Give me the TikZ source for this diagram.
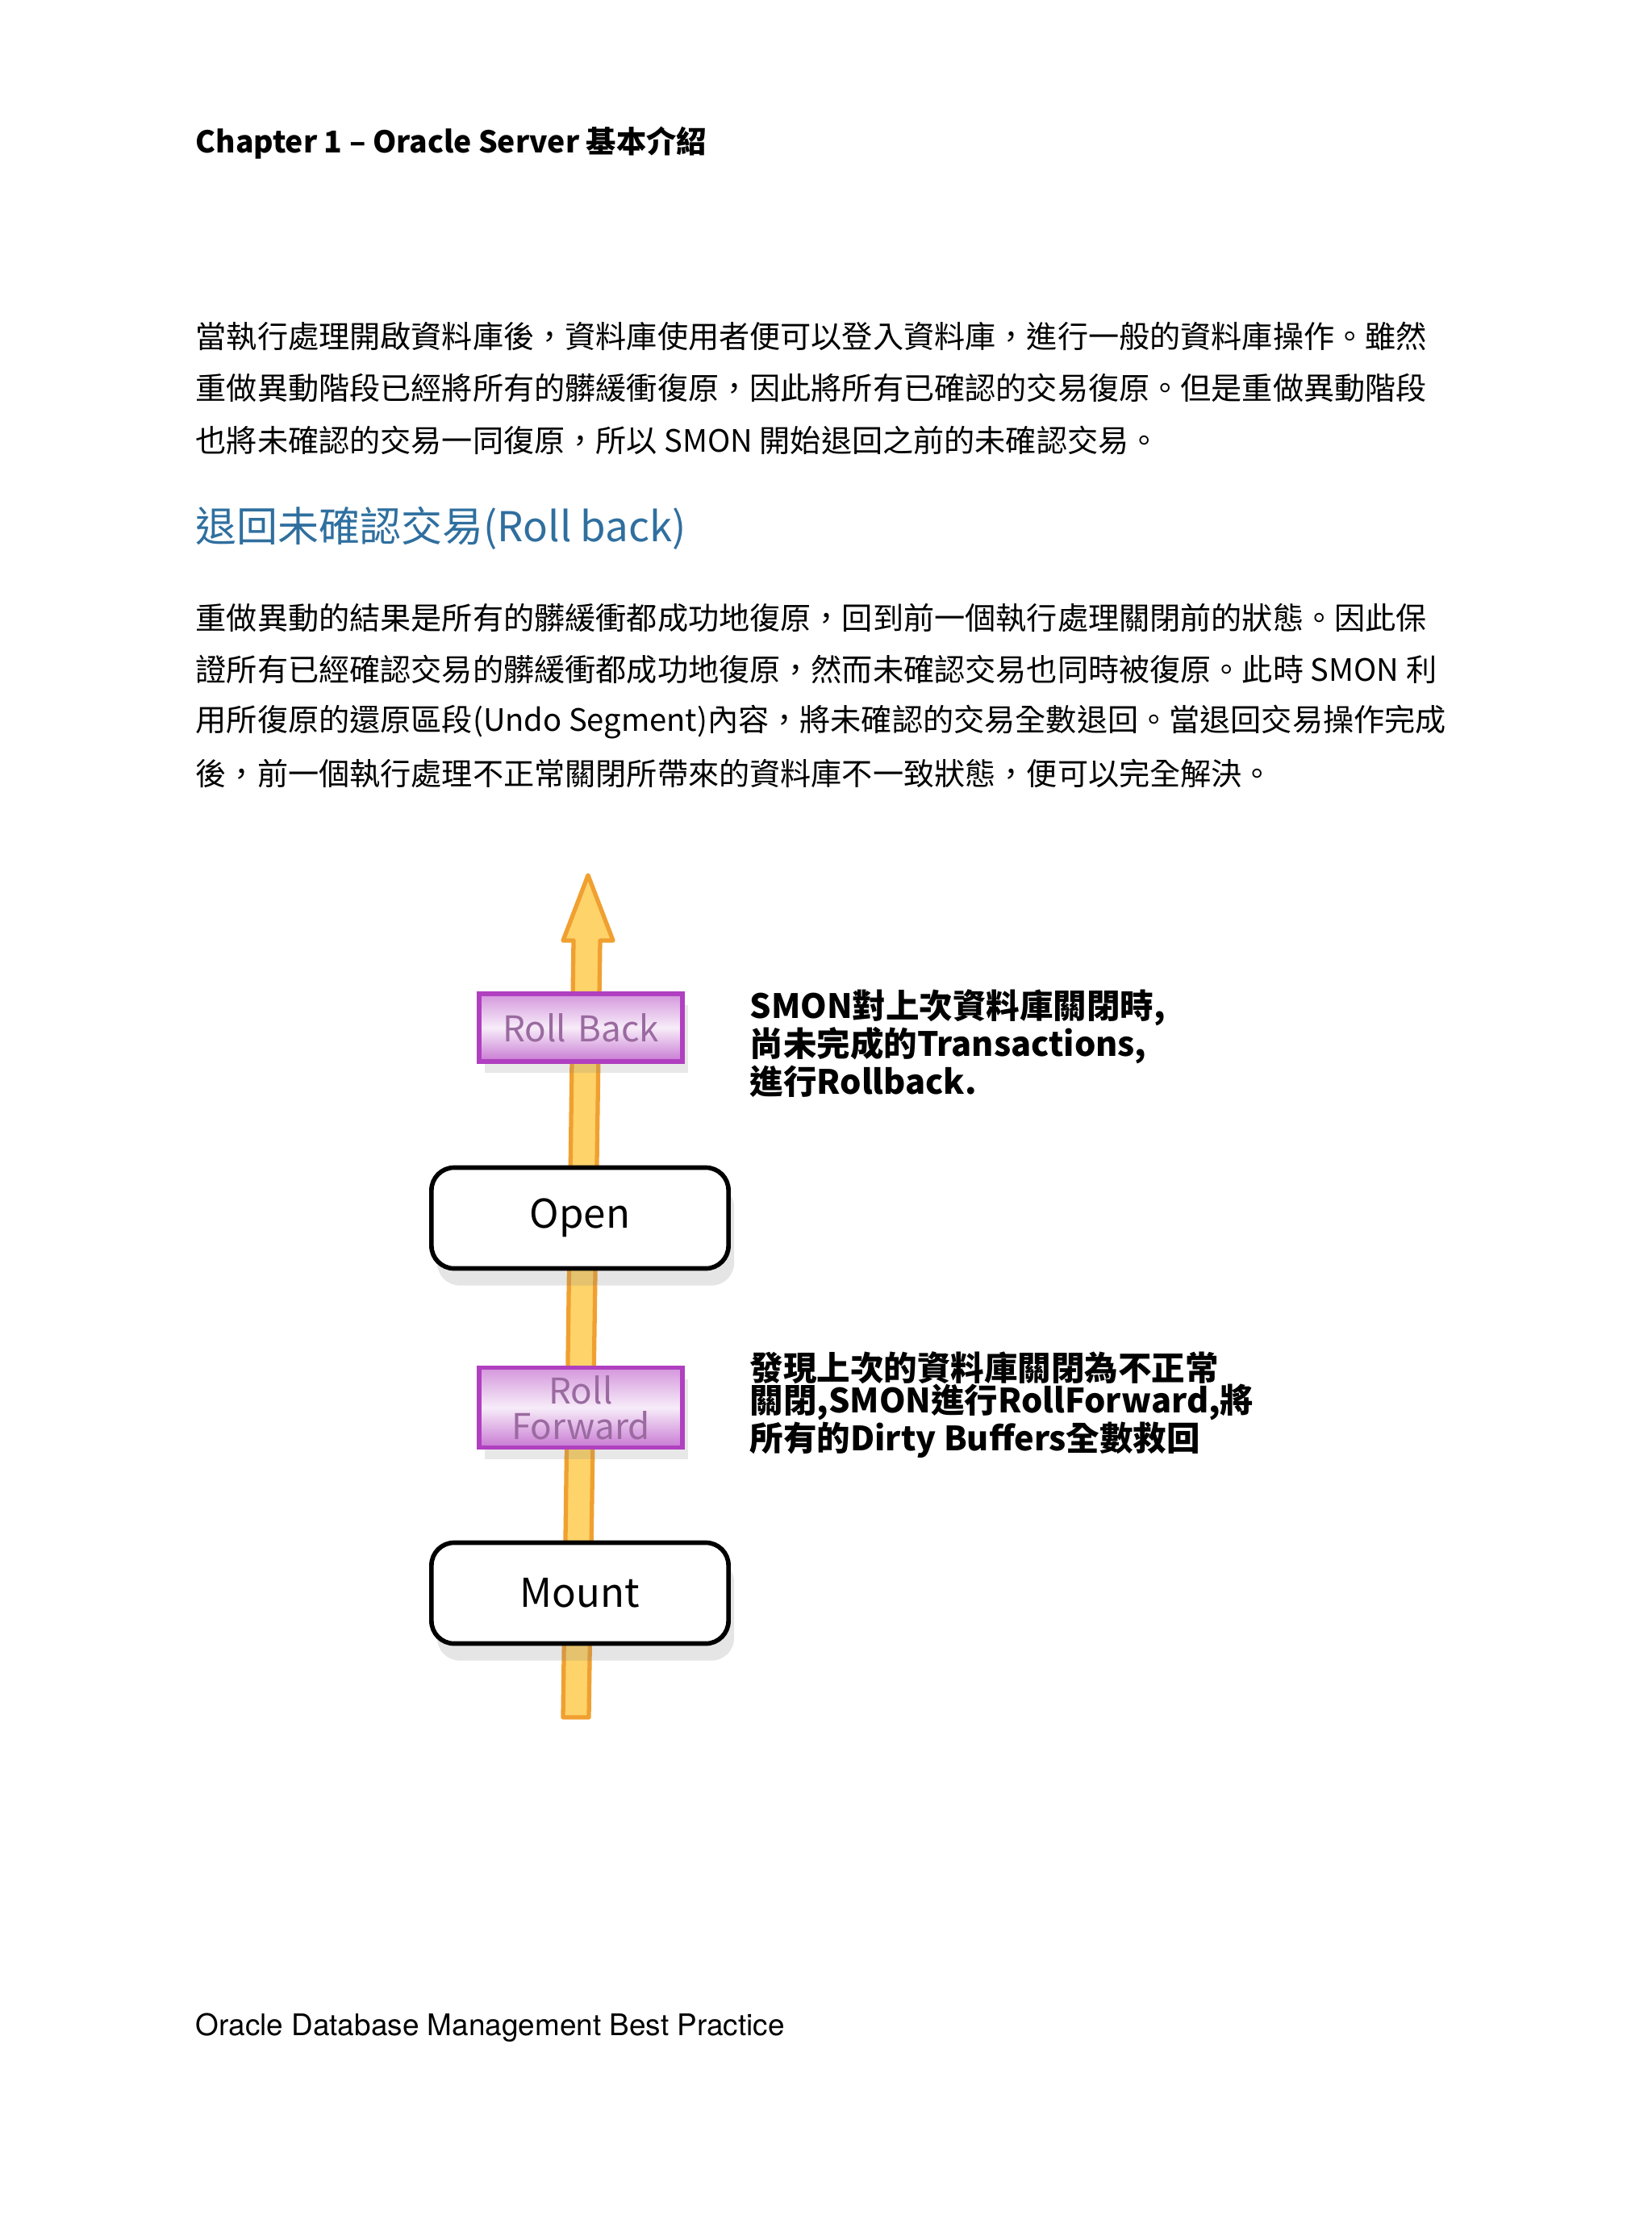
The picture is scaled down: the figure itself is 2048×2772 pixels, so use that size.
\documentclass[tikz,border=0pt]{standalone}
\usepackage{fontspec}
\setmainfont{Noto Sans CJK TC}
\newfontfamily\latinf{TeX Gyre Heros}
\usetikzlibrary{shadows}
\definecolor{headblue}{HTML}{2F6F9F}
\definecolor{arrowfill}{HTML}{FDD36A}
\definecolor{arroweg}{HTML}{F0A030}
\definecolor{purp}{HTML}{B040C0}
\definecolor{purptxt}{HTML}{9A6AA0}
\tikzset{
  body/.style={anchor=west,inner sep=0pt,font=\fontsize{10.85pt}{13pt}\selectfont},
  state/.style={draw=black,line width=1.6pt,rounded corners=8pt,fill=white,minimum width=3.68cm,minimum height=1.25cm,font=\fontsize{14pt}{16pt}\selectfont,drop shadow={shadow xshift=2pt,shadow yshift=-6pt,opacity=0.2}},
  phase/.style={draw=purp,line width=1.6pt,top color=purp!55,bottom color=purp!70,middle color=purp!10,inner sep=0pt,minimum height=0.84cm,text width=2.52cm,align=center,text=purptxt,font=\fontsize{12.5pt}{14pt}\selectfont,drop shadow={shadow xshift=2pt,shadow yshift=-4pt,opacity=0.18}},
  note/.style={anchor=north west,inner sep=0pt,align=left,font=\bfseries\fontsize{11.8pt}{12pt}\selectfont}
}
\begin{document}
\begin{tikzpicture}[x=0.01cm,y=-0.01cm]
\useasboundingbox (0,0) rectangle (2048,2772);
\fill[white] (0,0) rectangle (2048,2772);
\node[body,font=\bfseries\fontsize{10.6pt}{13pt}\selectfont] (title) at (242,177) {Chapter 1 – Oracle Server 基本介紹};
\node[body] (p1) at (242,417) {當執行處理開啟資料庫後，資料庫使用者便可以登入資料庫，進行一般的資料庫操作。雖然};
\node[body] (p2) at (242,481) {重做異動階段已經將所有的髒緩衝復原，因此將所有已確認的交易復原。但是重做異動階段};
\node[body] (p3) at (242,546) {也將未確認的交易一同復原，所以 SMON 開始退回之前的未確認交易。};
\node[body,text=headblue,font=\fontsize{14.5pt}{17pt}\selectfont] (head) at (242,655) {退回未確認交易(Roll back)};
\node[body] (q1) at (242,766) {重做異動的結果是所有的髒緩衝都成功地復原，回到前一個執行處理關閉前的狀態。因此保};
\node[body] (q2) at (242,830) {證所有已經確認交易的髒緩衝都成功地復原，然而未確認交易也同時被復原。此時 SMON 利};
\node[body] (q3) at (242,895) {用所復原的還原區段(Undo Segment)內容，將未確認的交易全數退回。當退回交易操作完成};
\node[body] (q4) at (242,959) {後，前一個執行處理不正常關閉所帶來的資料庫不一致狀態，便可以完全解決。};
% arrow
\coordinate (tip) at (729,1085);
\coordinate (tail) at (714,2129);
\filldraw[fill=arrowfill,draw=arroweg,line width=1.5pt,line join=round]
  (tip) -- (760,1166) -- (744,1166) -- (730,2129) -- (698,2129) -- (711,1166) -- (698,1166) -- cycle;
\node[phase] (rb) at (720,1274) {Roll Back};
\node[state] (open) at (719,1510) {Open};
\node[phase,minimum height=0.99cm,font=\fontsize{12.5pt}{13.5pt}\selectfont] (rf) at (720,1745) {Roll\\[-1pt]Forward};
\node[state] (mount) at (719,1975) {Mount};
\node[note] (n1) at (929,1226) {SMON對上次資料庫關閉時,\\[-0.5pt]尚未完成的Transactions,\\[-0.5pt]進行Rollback.};
\node[note] (n2) at (929,1675) {發現上次的資料庫關閉為不正常\\[-0.5pt]關閉,SMON進行RollForward,將\\[-0.5pt]所有的Dirty Buffers全數救回};
\node[body,font=\fontsize{10.5pt}{13pt}\selectfont\latinf] (foot) at (242,2514) {Oracle Database Management Best Practice};
\end{tikzpicture}
\end{document}
